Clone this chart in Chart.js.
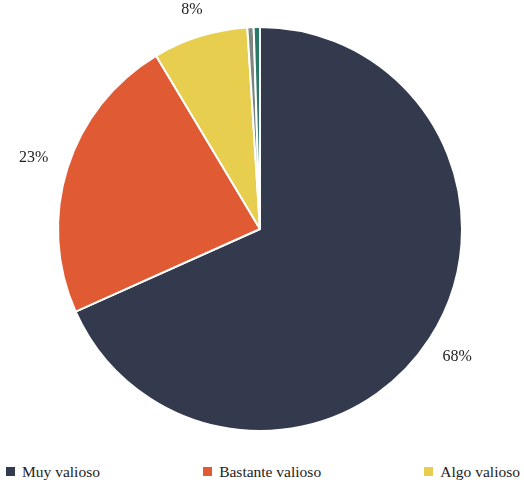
<!DOCTYPE html>
<html>
<head>
<meta charset="utf-8">
<script src="https://cdn.jsdelivr.net/npm/chart.js@4"></script>
<style>
  html, body { margin: 0; padding: 0; background: #fff; }
  #caja { width: 524px; height: 455px; position: relative; }
  #leyenda {
    display: flex; justify-content: space-between; align-items: center;
    width: 514px; padding: 0 4px 0 6px; height: 33px;
    font-family: 'Liberation Serif'; font-size: 15.5px; color: #222;
  }
  #leyenda span.item { display: flex; align-items: center; }
  #leyenda i { display: inline-block; width: 9px; height: 9px; margin-right: 7px; }
</style>
</head>
<body>
<div id="caja"><canvas id="grafico"></canvas></div>
<div id="leyenda"></div>
<script>
const categorias = ['Muy valioso', 'Bastante valioso', 'Algo valioso', 'Poco valioso', 'Nada valioso'];
const valores = [68.3, 23.1, 7.6, 0.5, 0.5];
const etiquetas = ['68%', '23%', '8%', '', ''];
const colores = ['#333a4e', '#e05a33', '#e8ce4e', '#7d8781', '#2a7a6a'];
const enLeyenda = 3;

// porcentajes fuera del pastel; el borde del texto queda a una distancia fija del sector
const rotulos = {
  id: 'rotulos',
  afterDatasetsDraw(chart) {
    const ctx = chart.ctx;
    const arcos = chart.getDatasetMeta(0).data;
    ctx.save();
    ctx.font = "16px 'Liberation Serif'";
    ctx.fillStyle = '#222';
    ctx.textAlign = 'center';
    ctx.textBaseline = 'middle';
    arcos.forEach((arco, i) => {
      if (!etiquetas[i]) return;
      const medio = (arco.startAngle + arco.endAngle) / 2;
      const cx = Math.cos(medio), sy = Math.sin(medio);
      const w = ctx.measureText(etiquetas[i]).width / 2, h = 7;
      const ext = Math.min(Math.abs(cx) > 0.01 ? w / Math.abs(cx) : 1e9, Math.abs(sy) > 0.01 ? h / Math.abs(sy) : 1e9);
      const r = arco.outerRadius + 20 + ext;
      ctx.fillText(etiquetas[i], arco.x + cx * r, arco.y + sy * r);
    });
    ctx.restore();
  }
};

new Chart(document.getElementById('grafico'), {
  type: 'pie',
  data: {
    labels: categorias,
    datasets: [{
      data: valores,
      backgroundColor: colores,
      borderColor: '#fff',
      borderWidth: 2
    }]
  },
  options: {
    responsive: true,
    maintainAspectRatio: false,
    animation: false,
    layout: { padding: { top: 26, bottom: 23, left: 0, right: 4 } },
    plugins: {
      legend: { display: false },
      tooltip: { enabled: false }
    }
  },
  plugins: [rotulos]
});

const leyenda = document.getElementById('leyenda');
leyenda.innerHTML = categorias.slice(0, enLeyenda).map((c, i) =>
  `<span class="item"><i style="background:${colores[i]}"></i>${c}</span>`
).join('');
</script>
</body>
</html>
